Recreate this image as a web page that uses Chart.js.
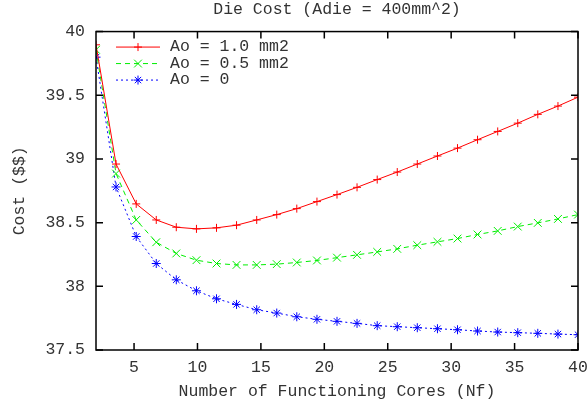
<!DOCTYPE html>
<html>
<head>
<meta charset="utf-8">
<script src="https://cdn.jsdelivr.net/npm/chart.js@4.4.1/dist/chart.umd.min.js"></script>
<style>
  html, body { margin: 0; padding: 0; background: #fff; }
  #wrap { width: 587px; height: 408px; }
</style>
</head>
<body>
<div id="wrap"><canvas id="chart" width="587" height="408"></canvas></div>
<script>
// Number of functioning cores (x) and die cost for each Ao value
const coresNf = [2, 3.58, 5.17, 6.75, 8.33, 9.92, 11.5, 13.08, 14.67, 16.25, 17.83, 19.42, 21,
    22.58, 24.17, 25.75, 27.33, 28.92, 30.5, 32.08, 33.67, 35.25, 36.83, 38.42, 40];
const costAo10 = [39.896, 38.96, 38.647, 38.521, 38.464, 38.451, 38.459, 38.48, 38.521, 38.563,
    38.61, 38.665, 38.72, 38.777, 38.838, 38.897, 38.96, 39.023, 39.085, 39.151, 39.216, 39.281,
    39.35, 39.415, 39.485];
const costAo05 = [39.857, 38.885, 38.521, 38.346, 38.258, 38.205, 38.179, 38.168, 38.168, 38.174,
    38.187, 38.203, 38.225, 38.247, 38.27, 38.294, 38.323, 38.349, 38.375, 38.407, 38.435, 38.469,
    38.498, 38.529, 38.563];
const costAo0 = [39.799, 38.78, 38.391, 38.179, 38.051, 37.965, 37.902, 37.858, 37.816, 37.79,
    37.761, 37.741, 37.725, 37.709, 37.691, 37.683, 37.675, 37.667, 37.659, 37.649, 37.641, 37.636,
    37.631, 37.625, 37.62];
const seriesLabels = ['Ao = 1.0 mm2', 'Ao = 0.5 mm2', 'Ao = 0'];
const xTickValues = [5, 10, 15, 20, 25, 30, 35, 40];
const yTickValues = [37.5, 38, 38.5, 39, 39.5, 40];

const textColor = '#333';
const monoFont = "'Liberation Mono', 'DejaVu Sans Mono', monospace";
const fontSize = 16.5;

Chart.defaults.font.family = monoFont;
Chart.defaults.font.size = fontSize;
Chart.defaults.color = textColor;

function toPoints(values) {
    return values.map((v, i) => ({ x: coresNf[i], y: v }));
}

function drawMarker(ctx, style, x, y, r) {
    ctx.beginPath();
    if (style === 'cross' || style === 'star') {
        ctx.moveTo(x - r, y); ctx.lineTo(x + r, y);
        ctx.moveTo(x, y - r); ctx.lineTo(x, y + r);
    }
    if (style === 'crossRot' || style === 'star') {
        const d = r * Math.SQRT1_2;
        ctx.moveTo(x - d, y - d); ctx.lineTo(x + d, y + d);
        ctx.moveTo(x + d, y - d); ctx.lineTo(x - d, y + d);
    }
    ctx.stroke();
}

// border box with inward ticks on all four sides, gnuplot style
const frameTicks = {
    id: 'frameTicks',
    afterDatasetsDraw(chart) {
        const { ctx, chartArea: a, scales } = chart;
        const len = 7;
        ctx.save();
        ctx.strokeStyle = '#000';
        ctx.lineWidth = 1.5;
        ctx.setLineDash([]);
        ctx.beginPath();
        xTickValues.forEach(v => {
            const px = scales.x.getPixelForValue(v);
            ctx.moveTo(px, a.bottom); ctx.lineTo(px, a.bottom - len);
            ctx.moveTo(px, a.top); ctx.lineTo(px, a.top + len);
        });
        yTickValues.forEach(v => {
            const py = scales.y.getPixelForValue(v);
            ctx.moveTo(a.left, py); ctx.lineTo(a.left + len, py);
            ctx.moveTo(a.right, py); ctx.lineTo(a.right - len, py);
        });
        ctx.stroke();
        ctx.strokeRect(a.left, a.top, a.right - a.left, a.bottom - a.top);
        ctx.restore();
    }
};

// key in the top left corner of the plot: line sample, marker, label
const gnuLegend = {
    id: 'gnuLegend',
    afterDatasetsDraw(chart) {
        const { ctx, chartArea: a } = chart;
        ctx.save();
        ctx.font = fontSize + 'px ' + monoFont;
        ctx.textBaseline = 'middle';
        chart.data.datasets.forEach((ds, i) => {
            const y = a.top + 15.5 + i * 16.5;
            const x0 = a.left + 20;
            const x1 = a.left + 64;
            ctx.strokeStyle = ds.borderColor;
            ctx.lineWidth = 1;
            ctx.setLineDash(ds.borderDash || []);
            ctx.beginPath();
            ctx.moveTo(x0, y); ctx.lineTo(x1, y);
            ctx.stroke();
            ctx.setLineDash([]);
            drawMarker(ctx, ds.pointStyle, (x0 + x1) / 2, y, ds.pointRadius);
            ctx.fillStyle = textColor;
            ctx.fillText(ds.label, a.left + 74, y);
        });
        ctx.restore();
    }
};

const ctx = document.getElementById('chart').getContext('2d');
new Chart(ctx, {
    type: 'line',
    data: {
        datasets: [
            {
                label: seriesLabels[0],
                data: toPoints(costAo10),
                borderColor: '#ff0000',
                borderWidth: 1,
                pointStyle: 'cross',
                pointRadius: 4,
                pointBorderColor: '#ff0000',
                pointBorderWidth: 1
            },
            {
                label: seriesLabels[1],
                data: toPoints(costAo05),
                borderColor: '#00ee00',
                borderWidth: 1,
                borderDash: [5, 4],
                pointStyle: 'crossRot',
                pointRadius: 5.5,
                pointBorderColor: '#00ee00',
                pointBorderWidth: 1
            },
            {
                label: seriesLabels[2],
                data: toPoints(costAo0),
                borderColor: '#0000ff',
                borderWidth: 1,
                borderDash: [2, 3],
                pointStyle: 'star',
                pointRadius: 4.5,
                pointBorderColor: '#0000ff',
                pointBorderWidth: 1
            }
        ]
    },
    options: {
        responsive: false,
        animation: false,
        layout: { padding: { top: 0, right: 9, bottom: 0, left: 0 } },
        plugins: {
            legend: { display: false },
            tooltip: { enabled: false },
            title: {
                display: true,
                fullSize: false,
                text: 'Die Cost (Adie = 400mm^2)',
                color: textColor,
                font: { size: fontSize, weight: 'normal', lineHeight: 1.125 },
                padding: { top: 0, bottom: 13 }
            }
        },
        scales: {
            x: {
                type: 'linear',
                min: 2,
                max: 40,
                grid: { display: false, drawTicks: false },
                border: { display: false },
                afterBuildTicks: scale => {
                    scale.ticks = xTickValues.map(v => ({ value: v }));
                },
                afterFit: scale => {
                    scale.height = 58;
                    scale.paddingLeft = 0;
                    scale.paddingRight = 0;
                },
                ticks: {
                    padding: 8,
                    maxRotation: 0,
                    callback: v => String(v)
                },
                title: {
                    display: true,
                    text: 'Number of Functioning Cores (Nf)',
                    padding: { top: 0, bottom: 6 }
                }
            },
            y: {
                min: 37.5,
                max: 40,
                grid: { display: false, drawTicks: false },
                border: { display: false },
                afterBuildTicks: scale => {
                    scale.ticks = yTickValues.map(v => ({ value: v }));
                },
                afterFit: scale => {
                    scale.width = 96;
                },
                ticks: {
                    padding: 11,
                    callback: v => String(v)
                },
                title: {
                    display: true,
                    text: 'Cost ($$)',
                    padding: { top: 10, bottom: 0 }
                }
            }
        }
    },
    plugins: [frameTicks, gnuLegend]
});
</script>
</body>
</html>
